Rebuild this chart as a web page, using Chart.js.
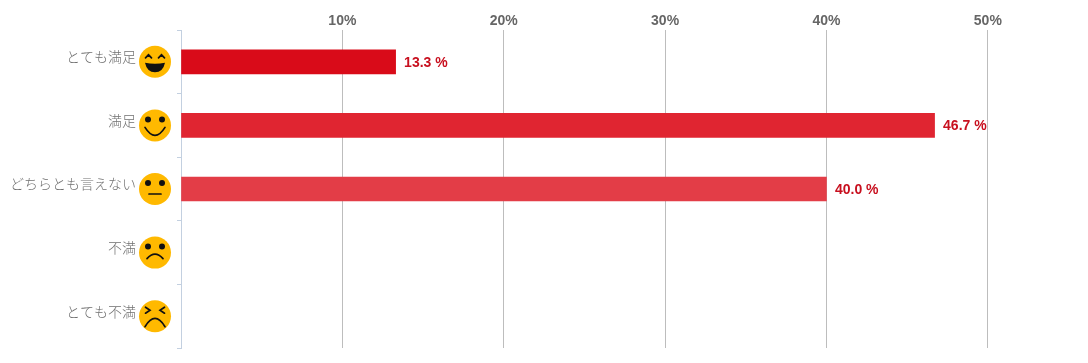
<!DOCTYPE html>
<html lang="ja">
<head>
<meta charset="utf-8">
<title>満足度</title>
<style>
  html, body { margin: 0; padding: 0; background: #fff; }
  canvas { display: block; }
</style>
<script src="https://cdn.jsdelivr.net/npm/chart.js@4"></script>
</head>
<body>
<canvas id="chartSatisfaction" width="1088" height="363"></canvas>
<script>
// categories and values
const categories = ['とても満足', '満足', 'どちらとも言えない', '不満', 'とても不満'];
const percentValues = [13.3, 46.7, 40.0, null, null];
const barColors = ['#d90b19', '#e02531', '#e33d47', '#e8555e', '#ec6d75'];
const faceKinds = ['laugh', 'smile', 'neutral', 'sad', 'upset'];
const tickStep = 10;
const axisMax = 55;

function drawDot(ctx, x, y, r) {
    ctx.beginPath();
    ctx.arc(x, y, r, 0, Math.PI * 2);
    ctx.fill();
}

function drawFace(ctx, kind, cx, cy) {
    ctx.save();
    ctx.translate(cx, cy);
    ctx.fillStyle = '#ffb900';
    drawDot(ctx, 0, 0, 16);
    ctx.fillStyle = '#111';
    ctx.strokeStyle = '#111';
    ctx.lineWidth = 1.7;
    ctx.lineCap = 'round';

    const stroke = (fn) => { ctx.beginPath(); fn(); ctx.stroke(); };

    if (kind === 'laugh') {
        stroke(() => { ctx.moveTo(-9.5, -4); ctx.lineTo(-6.5, -7); ctx.lineTo(-3.5, -4); });
        stroke(() => { ctx.moveTo(3.5, -4); ctx.lineTo(6.5, -7); ctx.lineTo(9.5, -4); });
        ctx.beginPath();
        ctx.moveTo(-10, 1);
        ctx.quadraticCurveTo(0, 3, 10, 1);
        ctx.quadraticCurveTo(8, 10.5, 0, 10.5);
        ctx.quadraticCurveTo(-8, 10.5, -10, 1);
        ctx.fill();
    } else if (kind === 'upset') {
        stroke(() => { ctx.moveTo(-9.5, -9); ctx.lineTo(-5, -6); ctx.lineTo(-9.5, -3); });
        stroke(() => { ctx.moveTo(9.5, -9); ctx.lineTo(5, -6); ctx.lineTo(9.5, -3); });
        stroke(() => { ctx.moveTo(-10, 10.5); ctx.quadraticCurveTo(0, -6, 10, 10.5); });
    } else {
        drawDot(ctx, -7, -6, 3);
        drawDot(ctx, 7, -6, 3);
        if (kind === 'smile') {
            stroke(() => { ctx.moveTo(-10, 2); ctx.quadraticCurveTo(0, 18, 10, 2); });
        } else if (kind === 'neutral') {
            stroke(() => { ctx.moveTo(-6, 5); ctx.lineTo(6, 5); });
        } else {
            stroke(() => { ctx.moveTo(-8, 6); ctx.quadraticCurveTo(0, -3, 8, 6); });
        }
    }
    ctx.restore();
}

// faces next to the category labels
const facesPlugin = {
    id: 'faces',
    afterDraw(chart) {
        const y = chart.scales.y;
        faceKinds.forEach((kind, i) => {
            drawFace(chart.ctx, kind, 155, y.getPixelForValue(i));
        });
    }
};

// value labels at the end of each bar
const valueLabelsPlugin = {
    id: 'valueLabels',
    afterDatasetsDraw(chart) {
        const ctx = chart.ctx;
        const bars = chart.getDatasetMeta(0).data;
        ctx.save();
        ctx.font = 'bold 14px "Liberation Sans", Arial, sans-serif';
        ctx.fillStyle = '#c8101f';
        ctx.textAlign = 'left';
        ctx.textBaseline = 'middle';
        percentValues.forEach((v, i) => {
            if (v === null) return;
            ctx.fillText(v.toFixed(1) + ' %', bars[i].x + 8.5, bars[i].y + 1);
        });
        ctx.restore();
    }
};

new Chart(document.getElementById('chartSatisfaction'), {
    type: 'bar',
    data: {
        labels: categories,
        datasets: [{
            data: percentValues,
            backgroundColor: barColors,
            borderWidth: 0,
            barThickness: 24
        }]
    },
    plugins: [facesPlugin, valueLabelsPlugin],
    options: {
        indexAxis: 'y',
        responsive: false,
        animation: false,
        layout: { padding: { top: 0, right: 19.5, bottom: 15, left: 0 } },
        plugins: {
            legend: { display: false },
            title: { display: false },
            tooltip: { enabled: false }
        },
        scales: {
            x: {
                position: 'top',
                min: 0,
                max: axisMax,
                afterFit(scale) { scale.height = 30; },
                border: { display: false },
                grid: {
                    color: (c) => (c.tick && c.tick.value === 0 ? 'rgba(0,0,0,0)' : '#bdbdbd'),
                    drawTicks: false
                },
                ticks: {
                    stepSize: tickStep,
                    includeBounds: false,
                    maxRotation: 0,
                    padding: 0,
                    color: '#666',
                    font: { family: '"Liberation Sans", Arial, sans-serif', size: 14, weight: 'bold' },
                    callback: (v) => (v === 0 ? '' : v + '%')
                }
            },
            y: {
                // tick padding would otherwise also push the chart area in vertically
                afterFit(scale) {
                    scale.width = 181;
                    scale.paddingTop = 0;
                    scale.paddingBottom = 0;
                },
                border: { color: '#c3d0e0' },
                grid: {
                    drawOnChartArea: false,
                    color: '#c3d0e0',
                    tickLength: 4
                },
                ticks: {
                    padding: 41,
                    labelOffset: -5,
                    color: '#707070',
                    font: { family: '"Noto Sans CJK JP", sans-serif', size: 14, weight: 300 }
                }
            }
        }
    }
});
</script>
</body>
</html>
